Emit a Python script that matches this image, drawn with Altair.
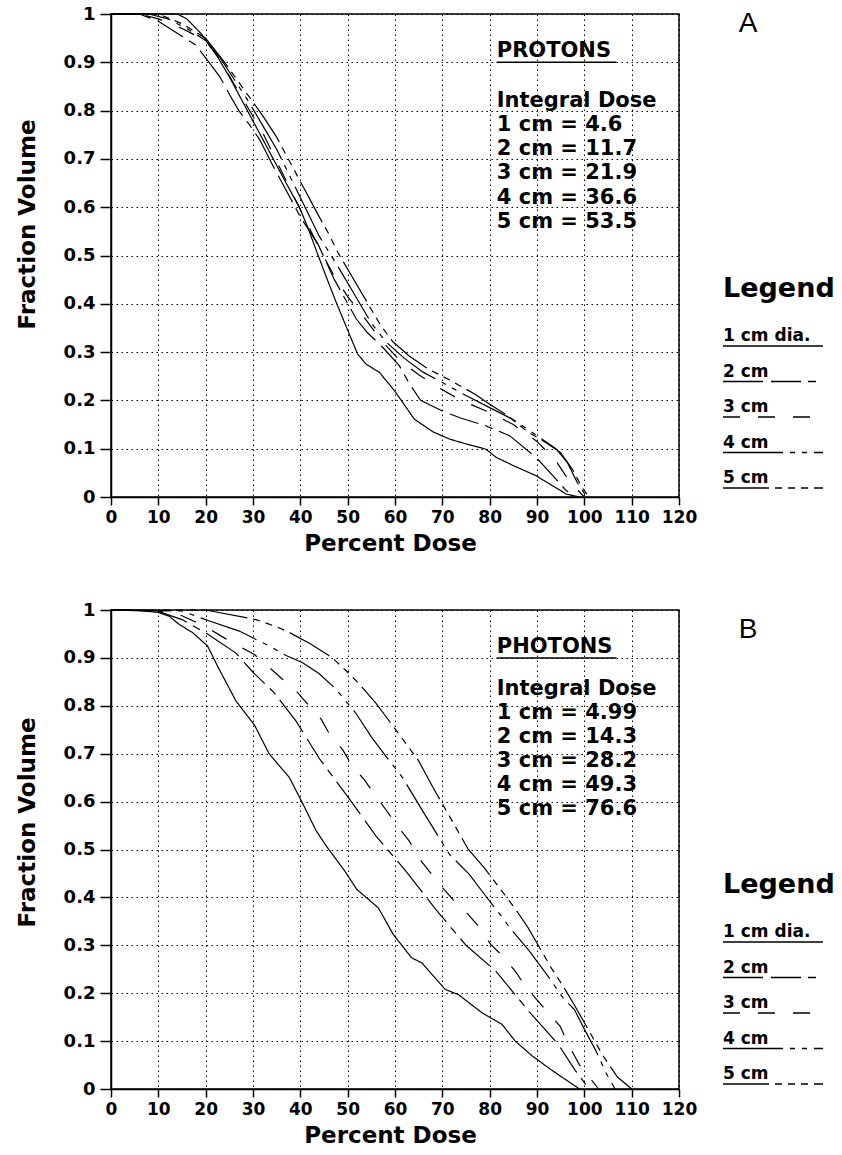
import altair as alt
import pandas as pd

SIZES = ["1 cm", "2 cm", "3 cm", "4 cm", "5 cm"]
LEGEND_LABELS = ["1 cm dia.", "2 cm", "3 cm", "4 cm", "5 cm"]
DASHES = [[1, 0], [40, 8, 30, 7, 8, 7], [17, 18], [60, 7, 5, 7, 5, 7], [46, 6, 7, 6, 7, 6, 7, 6]]
X_TICKS = list(range(0, 121, 10))
Y_TICKS = [round(i * 0.1, 1) for i in range(11)]

PROTON_DOSE = ["4.6", "11.7", "21.9", "36.6", "53.5"]
PHOTON_DOSE = ["4.99", "14.3", "28.2", "49.3", "76.6"]

# ---- Panel A: protons ----
p1_x = [0, 10, 14, 16, 19, 22, 25, 28, 31, 34, 37, 39.8, 41.5, 43, 45.5, 47.5, 49.6, 52.1, 53.9, 56.7, 59.9, 64.1, 68, 71.5, 75, 79.2, 81.4, 85, 89.8, 93, 96.2, 99]
p1_y = [1, 1, 1, 0.99, 0.96, 0.92, 0.87, 0.815, 0.76, 0.705, 0.65, 0.6, 0.56, 0.52, 0.455, 0.405, 0.355, 0.296, 0.275, 0.258, 0.22, 0.161, 0.135, 0.12, 0.11, 0.099, 0.082, 0.065, 0.044, 0.025, 0.006, 0]
p2_x = [0, 6, 10, 14, 18, 21, 23, 25, 27, 29.3, 31.4, 34, 37, 40, 43.7, 47.2, 51.8, 54.2, 57.4, 60.9, 63, 65.4, 70, 74, 79, 84.2, 89.8, 93, 96, 98]
p2_y = [1, 1, 0.985, 0.96, 0.935, 0.896, 0.87, 0.834, 0.8, 0.77, 0.74, 0.69, 0.635, 0.58, 0.524, 0.45, 0.369, 0.34, 0.31, 0.272, 0.235, 0.2, 0.178, 0.163, 0.148, 0.127, 0.082, 0.048, 0.015, 0]
p3_x = [0, 6, 10, 15, 20, 23, 26, 29, 32, 35, 38, 41, 44, 47, 50, 54, 57, 61, 65, 70, 74, 80, 85, 90, 94, 97, 100]
p3_y = [1, 1, 0.99, 0.97, 0.945, 0.905, 0.855, 0.805, 0.755, 0.695, 0.635, 0.575, 0.515, 0.46, 0.415, 0.365, 0.325, 0.283, 0.253, 0.222, 0.2, 0.175, 0.15, 0.115, 0.075, 0.03, 0]
p4_x = [0, 8, 12, 16, 20, 23, 26, 29, 32, 35, 38, 41, 44, 46.5, 49, 52, 55, 58, 62, 66, 70, 75, 80, 85, 90, 94, 96.5, 98.5, 100.5]
p4_y = [1, 1, 0.99, 0.97, 0.945, 0.91, 0.865, 0.82, 0.77, 0.72, 0.66, 0.6, 0.54, 0.5, 0.46, 0.41, 0.36, 0.322, 0.287, 0.258, 0.237, 0.21, 0.185, 0.16, 0.127, 0.1, 0.07, 0.03, 0]
p5_x = [0, 10, 15, 20, 24, 28, 32, 35, 38, 41, 44, 46, 48, 51, 54, 57, 59.5, 63, 67, 72, 77, 80, 84, 88, 92, 95, 97.5, 99.5, 101]
p5_y = [1, 1, 0.98, 0.95, 0.9, 0.845, 0.79, 0.745, 0.69, 0.635, 0.58, 0.545, 0.505, 0.455, 0.405, 0.355, 0.322, 0.292, 0.265, 0.24, 0.212, 0.192, 0.167, 0.135, 0.112, 0.092, 0.057, 0.02, 0]

# ---- Panel B: photons ----
g1_x = [0, 5, 10, 12.3, 14.4, 17.2, 20.4, 22.5, 26.4, 30.3, 33.4, 37.7, 40.3, 43.3, 45.5, 49.4, 51.9, 56.5, 59.6, 63.5, 65.7, 70.6, 73.4, 78.4, 82.6, 85.4, 89, 93, 96, 99]
g1_y = [1, 1, 0.995, 0.987, 0.97, 0.953, 0.925, 0.883, 0.81, 0.76, 0.7, 0.65, 0.6, 0.54, 0.507, 0.455, 0.417, 0.378, 0.323, 0.274, 0.263, 0.208, 0.197, 0.159, 0.135, 0.1, 0.069, 0.04, 0.02, 0]
g2_x = [0, 10, 15, 20.4, 26.4, 30, 34.5, 39.1, 44, 50.4, 56, 62.3, 68.6, 75, 81.3, 88.2, 94.5, 98, 101]
g2_y = [1, 0.997, 0.98, 0.95, 0.91, 0.87, 0.827, 0.768, 0.69, 0.605, 0.528, 0.455, 0.375, 0.3, 0.246, 0.163, 0.093, 0.04, 0]
g3_x = [0, 10, 15, 20, 23.2, 26.4, 30.3, 33.1, 36.3, 39.1, 41.6, 44.4, 46.4, 48.9, 51, 53.5, 55.9, 58, 60.5, 63, 65, 67.2, 69.7, 72.2, 75.4, 77.9, 80.2, 82.7, 85.4, 87.5, 89.9, 92.4, 94.9, 96.6, 99, 103]
g3_y = [1, 0.998, 0.988, 0.965, 0.946, 0.928, 0.907, 0.883, 0.855, 0.831, 0.803, 0.772, 0.737, 0.709, 0.674, 0.646, 0.612, 0.584, 0.549, 0.518, 0.483, 0.455, 0.424, 0.396, 0.365, 0.337, 0.302, 0.278, 0.246, 0.215, 0.187, 0.159, 0.131, 0.093, 0.05, 0]
g4_x = [0, 15, 20.8, 27.1, 33.4, 37, 40.5, 44, 47.5, 51.7, 55, 58.3, 61.6, 66, 71.5, 75.7, 79, 82.7, 84.2, 88.4, 92, 95.5, 97.9, 100, 102.5, 104.5, 106.5]
g4_y = [1, 0.998, 0.977, 0.956, 0.925, 0.905, 0.89, 0.867, 0.835, 0.785, 0.735, 0.692, 0.65, 0.578, 0.49, 0.448, 0.405, 0.358, 0.337, 0.288, 0.24, 0.19, 0.166, 0.125, 0.079, 0.035, 0]
g5_x = [0, 20, 30.6, 35, 37.7, 42, 46.8, 50, 52.5, 56, 60.9, 65, 68, 71.3, 75.5, 79, 82.6, 85.5, 88.1, 93, 95.5, 97.8, 100.5, 103.9, 107, 110]
g5_y = [1, 1, 0.98, 0.965, 0.953, 0.93, 0.9, 0.87, 0.845, 0.805, 0.74, 0.685, 0.63, 0.573, 0.5, 0.46, 0.413, 0.375, 0.337, 0.253, 0.215, 0.177, 0.13, 0.07, 0.025, 0]

FONT = "DejaVu Sans"
PLOT_W = 568


def panel(curves, title, doses, letter, letter_y, text_y, height, ytitle_y):
    rows = []
    for s, (xs, ys) in zip(SIZES, curves):
        for i, (x, y) in enumerate(zip(xs, ys)):
            rows.append({"dose": x, "vol": y, "size": s, "i": i})
    df = pd.DataFrame(rows)

    xscale = alt.Scale(domain=[0, 120], nice=False, zero=False)
    yscale = alt.Scale(domain=[0, 1], nice=False, zero=False)
    xaxis = alt.Axis(values=X_TICKS, title="Percent Dose", tickSize=8, labelPadding=4,
                     labelFlush=False, labelOverlap=False,
                     titleX=279, titleY=46, titleAlign="center", titleBaseline="middle")
    yaxis = alt.Axis(values=Y_TICKS, format="~g", title="Fraction Volume", tickSize=11,
                     labelPadding=5, labelFlush=False, labelOverlap=False, labelFontSize=18,
                     titleAngle=270, titleX=-84, titleY=ytitle_y,
                     titleAlign="center", titleBaseline="middle")
    X = alt.X("dose:Q", scale=xscale, axis=xaxis)
    Y = alt.Y("vol:Q", scale=yscale, axis=yaxis)

    lines = alt.Chart(df).mark_line(color="black", strokeWidth=1.2).encode(
        x=X, y=Y,
        strokeDash=alt.StrokeDash("size:N", scale=alt.Scale(domain=SIZES, range=DASHES), legend=None),
        order="i:Q",
    )

    ann_text = [title, "Integral Dose"] + [f"{s} = {d}" for s, d in zip(SIZES, doses)]
    ann = pd.DataFrame({"dose": [81.5] * len(ann_text), "vol": text_y, "t": ann_text})
    ann_layer = alt.Chart(ann).mark_text(
        align="left", baseline="middle", font=FONT, fontWeight="bold", fontSize=21, color="black"
    ).encode(x=X, y=Y, text="t:N")

    ul = pd.DataFrame({"dose": [81.5], "dose2": [106.8], "vol": [0.9]})
    ul_layer = alt.Chart(ul).mark_rule(color="black", strokeWidth=1.5).encode(
        x=X, x2="dose2:Q", y=Y)

    one = pd.DataFrame({"k": [0]})
    layers = [lines, ann_layer, ul_layer]
    LEG_X = 612
    layers.append(alt.Chart(one).mark_text(
        align="left", baseline="middle", font=FONT, fontWeight="bold", fontSize=27,
        color="black", text="Legend").encode(x=alt.value(LEG_X), y=alt.value(275)))
    for k, lab in enumerate(LEGEND_LABELS):
        ty = 322 + 35.5 * k
        layers.append(alt.Chart(one).mark_text(
            align="left", baseline="middle", font=FONT, fontWeight="bold", fontSize=17,
            color="black", text=lab).encode(x=alt.value(LEG_X), y=alt.value(ty)))
        layers.append(alt.Chart(one).mark_rule(
            color="black", strokeWidth=1.5, strokeDash=DASHES[k]).encode(
            x=alt.value(LEG_X), x2=alt.value(LEG_X + 100), y=alt.value(ty + 10)))
    layers.append(alt.Chart(one).mark_text(
        align="center", baseline="middle", font="Liberation Sans", fontSize=28,
        color="black", text=letter).encode(x=alt.value(637), y=alt.value(letter_y)))

    return alt.layer(*layers).properties(width=PLOT_W, height=height)


top = panel([(p1_x, p1_y), (p2_x, p2_y), (p3_x, p3_y), (p4_x, p4_y), (p5_x, p5_y)],
            "PROTONS", PROTON_DOSE, "A", 10,
            [0.923, 0.82, 0.77, 0.72, 0.67, 0.62, 0.57], 483, 210)
bottom = panel([(g1_x, g1_y), (g2_x, g2_y), (g3_x, g3_y), (g4_x, g4_y), (g5_x, g5_y)],
               "PHOTONS", PHOTON_DOSE, "B", 20,
               [0.923, 0.835, 0.785, 0.735, 0.685, 0.635, 0.585], 479, 212)

chart = alt.vconcat(top, bottom, spacing=44).configure_view(
    stroke="black", strokeWidth=1.5
).configure_axis(
    domainColor="black", domainWidth=1.5, tickColor="black", tickWidth=1.5,
    grid=True, gridColor="black", gridDash=[1.5, 3.5], gridWidth=1, gridOpacity=1,
    labelFont=FONT, labelFontWeight="bold", labelFontSize=17, labelColor="black",
    titleFont=FONT, titleFontSize=23, titleFontWeight="bold", titleColor="black",
).properties(
    padding={"left": 15, "top": 4, "right": 0, "bottom": 0},
    background="white",
)

chart.save("out.html", embed_options={"renderer": "svg", "actions": False})
